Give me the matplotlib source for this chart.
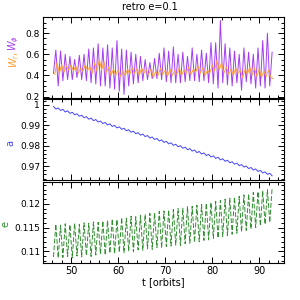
import numpy as np
import matplotlib
matplotlib.use("Agg")
import matplotlib.pyplot as plt
from matplotlib.ticker import MultipleLocator, FormatStrFormatter

# ---------------- data ----------------
t_start = 46.25
period = 1.0

w_phi_troughs = [0.42, 0.30, 0.35, 0.36, 0.36, 0.38, 0.36, 0.35, 0.33, 0.32, 0.30, 0.30,
                 0.28, 0.27, 0.25, 0.22, 0.30, 0.32, 0.33, 0.35, 0.36, 0.37, 0.37, 0.36,
                 0.34, 0.33, 0.33, 0.33, 0.34, 0.35, 0.35, 0.34, 0.35, 0.33, 0.32, 0.28,
                 0.33, 0.31, 0.30, 0.33, 0.26, 0.34, 0.32, 0.28, 0.30, 0.28, 0.30]
w_phi_peaks = [0.64, 0.63, 0.60, 0.58, 0.55, 0.59, 0.60, 0.65, 0.66, 0.70, 0.66, 0.69,
               0.66, 0.73, 0.65, 0.64, 0.62, 0.60, 0.58, 0.55, 0.52, 0.56, 0.61, 0.66,
               0.63, 0.67, 0.60, 0.62, 0.58, 0.66, 0.60, 0.64, 0.61, 0.71, 0.71, 0.92,
               0.70, 0.66, 0.63, 0.60, 0.66, 0.62, 0.60, 0.66, 0.73, 0.80, 0.62]

w_r = [0.41, 0.52, 0.42, 0.50, 0.43, 0.49, 0.45, 0.50, 0.44, 0.49, 0.42, 0.47,
       0.44, 0.50, 0.45, 0.48, 0.42, 0.52, 0.44, 0.55, 0.45, 0.53, 0.43, 0.48,
       0.40, 0.46, 0.40, 0.45, 0.39, 0.44, 0.40, 0.46, 0.41, 0.47, 0.42, 0.46,
       0.40, 0.47, 0.42, 0.45, 0.41, 0.46, 0.38, 0.44, 0.40, 0.47, 0.41, 0.45,
       0.39, 0.46, 0.40, 0.44, 0.41, 0.47, 0.40, 0.45, 0.42, 0.48, 0.41, 0.46,
       0.43, 0.49, 0.42, 0.47, 0.40, 0.45, 0.42, 0.50, 0.44, 0.54, 0.45, 0.52,
       0.42, 0.48, 0.41, 0.46, 0.40, 0.47, 0.42, 0.45, 0.38, 0.46, 0.41, 0.48,
       0.40, 0.47, 0.39, 0.46, 0.38, 0.44, 0.39, 0.45, 0.38, 0.37]

a_hi = [.99925, .99854, .99783, .99712, .99641, .99570, .99499, .99428, .99357, .99286,
        .99215, .99144, .99073, .99002, .98931, .98860, .98789, .98718, .98647, .98576,
        .98505, .98434, .98363, .98292, .98221, .98150, .98079, .98008, .97937, .97866,
        .97795, .97724, .97653, .97582, .97511, .97440, .97369, .97298, .97227, .97156,
        .97085, .97014, .96943, .96872, .96801, .96730, .96659]
a_lo = [.99800, .99729, .99658, .99587, .99516, .99445, .99374, .99303, .99232, .99161,
        .99090, .99019, .98948, .98877, .98806, .98735, .98664, .98593, .98522, .98451,
        .98380, .98309, .98238, .98167, .98096, .98025, .97954, .97883, .97812, .97741,
        .97670, .97599, .97528, .97457, .97386, .97315, .97244, .97173, .97102, .97031,
        .96960, .96889, .96818, .96747, .96676, .96605, .96534]

e_lo = [0.1088, 0.1086, 0.1087, 0.1089, 0.1086, 0.1090, 0.1088, 0.1091, 0.1089, 0.1092,
        0.1094, 0.1092, 0.1096, 0.1095, 0.1098, 0.1097, 0.1100, 0.1099, 0.1103, 0.1102,
        0.1105, 0.1104, 0.1108, 0.1107, 0.1110, 0.1111, 0.1113, 0.1112, 0.1116, 0.1117,
        0.1119, 0.1120, 0.1123, 0.1124, 0.1127, 0.1128, 0.1131, 0.1133, 0.1136, 0.1138,
        0.1141, 0.1144, 0.1147, 0.1150, 0.1154, 0.1157, 0.1161]
e_hi = [0.1157, 0.1155, 0.1158, 0.1156, 0.1159, 0.1157, 0.1160, 0.1159, 0.1162, 0.1161,
        0.1164, 0.1165, 0.1168, 0.1167, 0.1171, 0.1170, 0.1174, 0.1173, 0.1176, 0.1178,
        0.1180, 0.1181, 0.1184, 0.1185, 0.1187, 0.1188, 0.1190, 0.1191, 0.1194, 0.1195,
        0.1197, 0.1199, 0.1201, 0.1203, 0.1205, 0.1207, 0.1210, 0.1212, 0.1214, 0.1216,
        0.1219, 0.1221, 0.1224, 0.1226, 0.1228, 0.1230, 0.1234]

title = "retro e=0.1"
xlabel = "t [orbits]"


def interleave(first, second):
    out = []
    for p, q in zip(first, second):
        out += [p, q]
    return np.array(out)


n = len(w_phi_peaks)
t_half = t_start + 0.5 * period * np.arange(2 * n)
w_phi = interleave(w_phi_troughs, w_phi_peaks)
t_wr = t_start + 0.25 + 0.5 * period * np.arange(len(w_r))
a_vals = interleave(a_hi, a_lo)
e_vals = interleave(e_lo, e_hi)

# ---------------- figure ----------------
plt.rcParams['font.family'] = ['DejaVu Sans']
fig = plt.figure(figsize=(3, 3), dpi=100)
left, right = 0.143, 0.947
bottoms = [0.673, 0.400, 0.123]
h = 0.270
axes = [fig.add_axes([left, b, right - left, h]) for b in bottoms]

purple = '#a63cf2'
orange = '#ffa030'
blue = '#4444ff'
green = '#2f8f2f'

ax1, ax2, ax3 = axes
ax1.plot(t_half, w_phi, color=purple, lw=0.7)
ax1.plot(t_wr, w_r, color=orange, lw=0.7)
ax1.set_ylim(0.185, 0.952)
ax1.yaxis.set_major_locator(MultipleLocator(0.2))
ax1.yaxis.set_minor_locator(MultipleLocator(0.05))
ax1.yaxis.set_major_formatter(FormatStrFormatter('%g'))

ax2.plot(t_half, a_vals, color=blue, lw=0.7)
ax2.set_ylim(0.9633, 1.0029)
ax2.yaxis.set_major_locator(MultipleLocator(0.01))
ax2.yaxis.set_minor_locator(MultipleLocator(0.002))
ax2.yaxis.set_major_formatter(FormatStrFormatter('%g'))

line, = ax3.plot(t_half, e_vals, color=green, lw=0.7)
line.set_dashes([5, 2])
ax3.set_ylim(0.1075, 0.1246)
ax3.yaxis.set_major_locator(MultipleLocator(0.005))
ax3.yaxis.set_minor_locator(MultipleLocator(0.001))
ax3.yaxis.set_major_formatter(FormatStrFormatter('%g'))

for ax in axes:
    ax.set_xlim(44.0, 95.3)
    ax.xaxis.set_major_locator(MultipleLocator(10))
    ax.xaxis.set_minor_locator(MultipleLocator(2))
    ax.tick_params(which='both', direction='in', top=True, right=True, labelsize=6.5,
                   width=0.7, pad=2)
    ax.tick_params(which='major', length=4)
    ax.tick_params(which='minor', length=2)
    for s in ax.spines.values():
        s.set_linewidth(0.8)
ax1.tick_params(labelbottom=False)
ax2.tick_params(labelbottom=False)

ax3.tick_params(axis='x', labelsize=7)
ax3.set_xlabel(xlabel, fontsize=7, labelpad=1)
fig.text(0.5, 0.975, title, ha='center', va='center', fontsize=7)

fig.text(0.047, 0.80, r'$W_r,$', color=orange, rotation=90, ha='center', va='center', fontsize=7)
fig.text(0.047, 0.855, r'$W_\phi$', color=purple, rotation=90, ha='center', va='center', fontsize=7)
fig.text(0.035, 0.525, 'a', color=blue, rotation=90, ha='center', va='center', fontsize=7)
fig.text(0.018, 0.253, 'e', color=green, rotation=90, ha='center', va='center', fontsize=7)

fig.savefig('out.png', dpi=100)
